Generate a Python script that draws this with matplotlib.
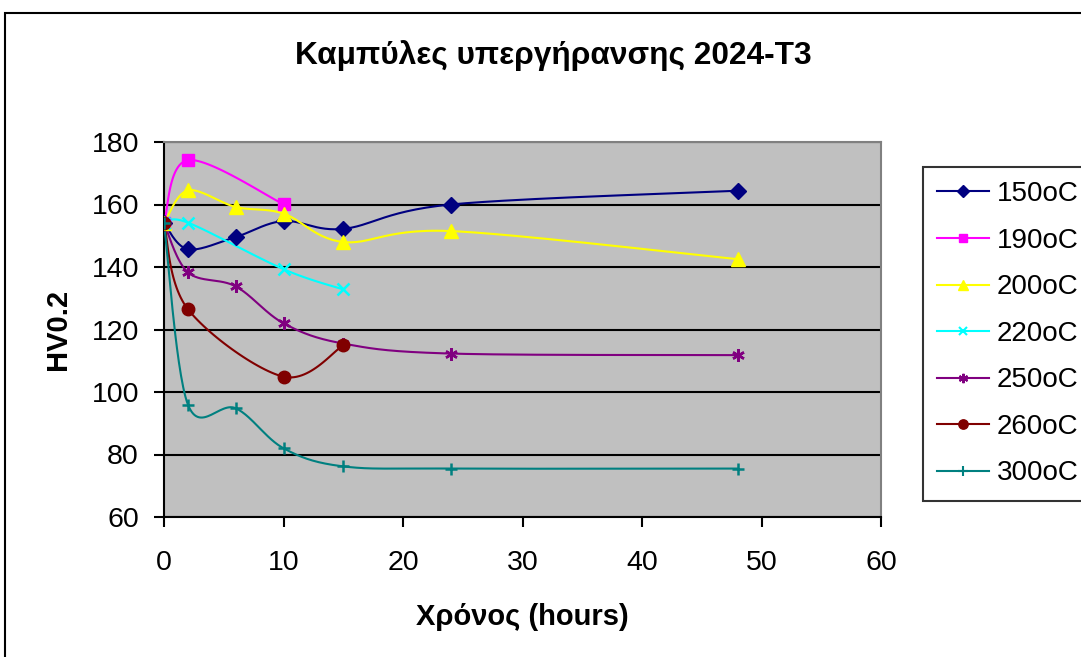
import numpy as np
import matplotlib
matplotlib.use("Agg")
import matplotlib.pyplot as plt
from matplotlib.patches import Rectangle

plt.rcParams['font.family'] = ['Liberation Sans', 'DejaVu Sans']

# hardness (HV0.2) vs ageing time, one series per temperature
t_long = [0, 2, 6, 10, 15, 24, 48]
t_10 = [0, 2, 10]
t_15 = [0, 2, 10, 15]

hv_150 = [154, 145.7, 149.6, 154.7, 152.2, 160, 164.4]
hv_190 = [154, 174.2, 160.1]
hv_200 = [154, 164.5, 159.2, 157.1, 148, 151.5, 142.5]
hv_220 = [154, 154.2, 139.3, 132.8]
hv_250 = [154, 138.3, 133.8, 122.0, 115.5, 112.3, 111.8]
hv_260 = [154, 126.5, 104.9, 114.9]
hv_300 = [154, 96.0, 94.8, 82.0, 76.2, 75.5, 75.5]

series = [
    ("150oC", t_long, hv_150, "#000080", "D", 8),
    ("190oC", t_10, hv_190, "#FF00FF", "s", 8),
    ("200oC", t_long, hv_200, "#FFFF00", "^", 10),
    ("220oC", t_15, hv_220, "#00FFFF", "x", 8),
    ("250oC", t_long, hv_250, "#800080", (6, 2, 0), 9),
    ("260oC", t_15, hv_260, "#800000", "o", 9),
    ("300oC", t_long, hv_300, "#008080", "+", 9),
]


def smooth(x, y, n=30):
    # Catmull-Rom style bezier through the points (like spreadsheet "smoothed line")
    x = np.asarray(x, float)
    y = np.asarray(y, float)
    px = np.concatenate([[x[0]], x, [x[-1]]])
    py = np.concatenate([[y[0]], y, [y[-1]]])
    xs, ys = [], []
    s = np.linspace(0, 1, n)
    for i in range(1, len(px) - 2):
        p0 = np.array([px[i], py[i]])
        p3 = np.array([px[i + 1], py[i + 1]])
        c1 = p0 + (np.array([px[i + 1], py[i + 1]]) - np.array([px[i - 1], py[i - 1]])) / 6
        c2 = p3 - (np.array([px[i + 2], py[i + 2]]) - np.array([px[i], py[i]])) / 6
        b = ((1 - s) ** 3)[:, None] * p0 + (3 * (1 - s) ** 2 * s)[:, None] * c1 \
            + (3 * (1 - s) * s ** 2)[:, None] * c2 + (s ** 3)[:, None] * p3
        xs.extend(b[:, 0])
        ys.extend(b[:, 1])
    return xs, ys


fig = plt.figure(figsize=(10.81, 6.57), dpi=100)
ax = fig.add_axes([164 / 1081, 1 - 517 / 657, (881 - 164) / 1081, (517 - 142) / 657])
ax.set_facecolor("#C0C0C0")

for label, t, hv, col, mk, ms in series:
    sx, sy = smooth(t, hv)
    ax.plot(sx, sy, color=col, lw=1.5, zorder=3)
    ax.plot(t, hv, linestyle="none", marker=mk, color=col, markersize=ms,
            markeredgewidth=1.8 if mk in ("x", "+", (6, 2, 0)) else 1, zorder=4)
    # legend proxy
    ax.plot([], [], color=col, lw=1.5, marker=mk, markersize=ms * 0.75,
            markeredgewidth=1.5 if mk in ("x", "+", (6, 2, 0)) else 1, label=label)

ax.set_xlim(0, 60)
ax.set_ylim(60, 180)
ax.set_xticks(range(0, 61, 10))
ax.set_yticks(range(60, 181, 20))
ax.yaxis.grid(True, color="black", lw=1.5)
ax.set_axisbelow(True)
ax.tick_params(axis="both", direction="out", length=7, width=1.5, labelsize=20.5,
               color="black")
ax.tick_params(axis="x", pad=17)
ax.tick_params(axis="y", pad=11)

for side in ("left", "bottom"):
    ax.spines[side].set_color("black")
    ax.spines[side].set_linewidth(1.5)
for side in ("top", "right"):
    ax.spines[side].set_color("#808080")
    ax.spines[side].set_linewidth(1.5)

ax.set_xlabel("Χρόνος (hours)", fontsize=21, fontweight="bold", labelpad=19)
ax.set_ylabel("HV0.2", fontsize=21, fontweight="bold", labelpad=14)

fig.text(553 / 1081, 1 - 56 / 657, "Καμπύλες υπεργήρανσης 2024-Τ3", ha="center", va="center",
         fontsize=22.8, fontweight="bold")

handles, labels = ax.get_legend_handles_labels()
leg = fig.legend(handles, labels, loc="upper left", bbox_to_anchor=(922.7 / 1081, 1 - 166.7 / 657),
                 borderaxespad=0, fontsize=20, frameon=True, fancybox=False,
                 handlelength=1.85, handletextpad=0.29, labelspacing=0.74, borderpad=0.52)
leg.get_frame().set_edgecolor("black")
leg.get_frame().set_linewidth(1.5)

# outer chart border
fig.patches.append(Rectangle((5 / 1081, -0.1), 1.2, 1 - 13 / 657 + 0.1, transform=fig.transFigure,
                             fill=False, edgecolor="black", lw=1.5, zorder=0))

fig.savefig("out.png", dpi=100)
